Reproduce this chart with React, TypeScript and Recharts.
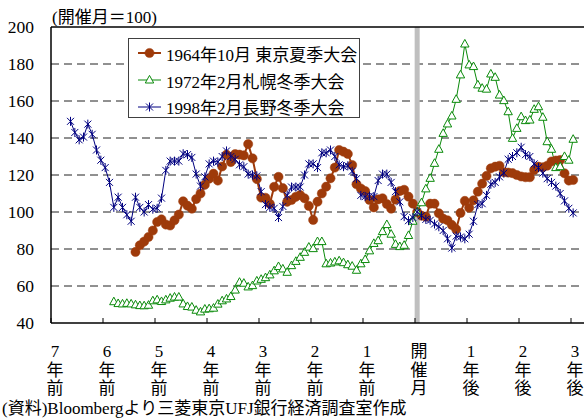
import React from 'react';
import { LineChart, Line, XAxis, YAxis, CartesianGrid, ReferenceLine, Legend } from 'recharts';

const FONT = "'Liberation Serif', 'Noto Sans CJK JP', serif";
const BROWN = '#9e3a0a';
const GREEN = '#0a8a0a';
const NAVY = '#000080';

// Monthly index, host month = 100. Each series begins at the month given by its *Start constant.
const tokyoStart = -65;
const tokyo = [
  78.4, 82, 84, 86.5, 90, 94.6, 96, 93.2, 92.7, 95.5,
  98.6, 105.8, 103.4, 101.8, 107, 110, 114.7, 118, 120.7, 117,
  124.6, 131, 127, 131.3, 131, 130.6, 136.7, 129, 117.8, 107.8,
  107.7, 104.4, 113.6, 119, 112.9, 105.5, 106.5, 108.2, 109.2, 107.4,
  103.3, 95.7, 105.6, 110, 113.7, 118.2, 124, 133.5, 132.6, 131.4,
  125.4, 115, 112.7, 111.3, 106.5, 102.5, 106.8, 107.4, 104.3, 101.8,
  106.7, 111.3, 112, 108.3, 104.5, 100, 98, 97.5, 104.5, 104.5,
  99.3, 96.4, 95.5, 93, 90.7, 99.5, 106, 102.3, 106.3, 111,
  115.3, 119.5, 123.6, 124.5, 125, 121.5, 121.3, 121, 120, 119.2,
  118.8, 118.8, 122.7, 124.5, 124.2, 125, 127.3, 127.8, 128.1, 120.9,
  117, 117.3,
];

const sapporoStart = -70;
const sapporo = [
  51.5, 50.5, 50.3, 50.6, 50.3, 49.8, 49.4, 49.3, 49.6, 52,
  52.5, 51.6, 52.5, 53.4, 54, 54, 50.3, 48.9, 48.6, 46.9,
  46, 47.5, 47.7, 48, 50.2, 52, 53, 54.3, 57.8, 62,
  61.5, 59.5, 60.2, 62.7, 63.6, 64.5, 66, 68.2, 70.5, 69.2,
  67.4, 71, 73.3, 75.5, 78.2, 81, 80.2, 84, 84, 72,
  72.4, 73, 73.6, 72.6, 71.5, 70.7, 68.5, 72, 74.3, 79,
  83, 84.5, 89.4, 93.2, 88, 82.5, 81.3, 82, 87.3, 95,
  100, 105, 112.5, 118.2, 126.3, 133.9, 142.5, 147.6, 151.9, 160.9,
  174.1, 190.8, 179.5, 178.6, 168.7, 166.9, 166.4, 174.6, 172.8, 163.2,
  160.2, 154.2, 139.8, 145.2, 151.5, 149.4, 149.7, 155.5, 156.9, 151.2,
  138, 133.9, 124, 124.5, 130, 128, 139.3,
];

const naganoStart = -80;
const nagano = [
  149, 143, 139, 140.5, 147.5, 142, 133.5, 128, 124, 116,
  102.5, 108, 102.5, 98.5, 95, 108, 102.5, 100, 104, 101.5,
  102, 107.5, 122.5, 127.5, 127.5, 127.5, 131.5, 131, 129.5, 120.5,
  114, 119, 126, 127.5, 127, 130, 133, 130, 128.5, 125.5,
  124.5, 120.5, 120, 119.5, 111, 104, 102.5, 102, 97, 103,
  109, 113.5, 113.5, 113.5, 120, 126, 126, 124, 132, 132,
  133.5, 130, 125.5, 124.5, 125, 122, 118, 109, 108.3, 108.6,
  108.3, 117, 120.5, 120.5, 116, 111, 105.5, 97.5, 95.3, 97,
  100, 98, 96, 95.5, 93.5, 92, 90, 85.5, 80.5, 87,
  86.5, 85.5, 88, 95, 104, 104.5, 109, 115, 116, 119,
  121, 128.5, 130, 132, 135, 131, 130, 126, 124, 121,
  118, 116, 114, 110, 106, 102, 99.5,
];

const seriesNames = {
  tokyo: '1964年10月 東京夏季大会',
  sapporo: '1972年2月札幌冬季大会',
  nagano: '1998年2月長野冬季大会',
};

const yTicks = [40, 60, 80, 100, 120, 140, 160, 180, 200];
const gridValues = [60, 80, 100, 120, 140, 160, 180];
const xTickMonths = [-84, -72, -60, -48, -36, -24, -12, 0, 12, 24, 36];
const xTickLabels = ['7年前', '6年前', '5年前', '4年前', '3年前', '2年前', '1年前', '開催月', '1年後', '2年後', '3年後'];

const firstMonth = -84;
const lastMonth = 36;

const pick = (arr: number[], start: number, m: number) => {
  const i = m - start;
  return i >= 0 && i < arr.length ? arr[i] : null;
};

const rows: any[] = [];
for (let m = firstMonth; m <= lastMonth; m++) {
  rows.push({
    month: m,
    tokyo: pick(tokyo, tokyoStart, m),
    sapporo: pick(sapporo, sapporoStart, m),
    nagano: pick(nagano, naganoStart, m),
  });
}

// Tick marks sit on month boundaries, half a month before each labelled month.
const tickPositions = xTickMonths.map((m) => m - 0.5);

const CircleMark = ({ cx, cy }: any) => <circle cx={cx} cy={cy} r={4.6} fill={BROWN} stroke={BROWN} strokeWidth={0.5} />;
const TriangleMark = ({ cx, cy }: any) => (
  <polygon
    points={`${cx},${cy - 4.6} ${cx + 4.2},${cy + 3} ${cx - 4.2},${cy + 3}`}
    fill="#fff"
    stroke={GREEN}
    strokeWidth={1}
  />
);
const StarMark = ({ cx, cy }: any) => (
  <g stroke={NAVY} strokeWidth={1}>
    <line x1={cx - 3.5} y1={cy - 3.5} x2={cx + 3.5} y2={cy + 3.5} />
    <line x1={cx - 3.5} y1={cy + 3.5} x2={cx + 3.5} y2={cy - 3.5} />
    <line x1={cx} y1={cy - 4.5} x2={cx} y2={cy + 4.5} />
  </g>
);

const markFor: Record<string, any> = { tokyo: CircleMark, sapporo: TriangleMark, nagano: StarMark };

const makeDot = (Mark: any) => (p: any) => {
  if (p.cx == null || p.cy == null || p.value == null) return <g key={`e-${p.index}`} />;
  return (
    <g key={`d-${p.index}`}>
      <Mark cx={p.cx} cy={p.cy} />
    </g>
  );
};

const MonthTick = (props: any) => {
  const { x, y, payload } = props;
  const idx = xTickMonths.indexOf(Math.round(payload.value + 0.5));
  const chars = Array.from(idx >= 0 ? xTickLabels[idx] : '');
  const cx = x + 4;
  return (
    <g>
      <line x1={x} x2={x} y1={y} y2={y - 5} stroke="#000" strokeWidth={1} />
      <text textAnchor="middle" fontSize={17} fontFamily={FONT} fill="#000">
        {chars.map((c, i) => (
          <tspan key={i} x={cx} y={y + 34 + i * 18.5}>
            {c}
          </tspan>
        ))}
      </text>
    </g>
  );
};

const LegendBox = (props: any) => {
  const payload = props.payload || [];
  return (
    <div
      style={{
        width: 232,
        height: 80,
        boxSizing: 'border-box',
        border: '1px solid #404040',
        background: '#fff',
        paddingTop: 1,
        fontFamily: FONT,
        fontSize: 17,
        color: '#000',
      }}
    >
      {payload.map((entry: any) => {
        const Mark = markFor[entry.dataKey];
        const w = entry.dataKey === 'tokyo' ? 2 : 1;
        return (
          <div key={entry.dataKey} style={{ height: 26.7, display: 'flex', alignItems: 'center', whiteSpace: 'nowrap' }}>
            <svg width={32} height={14} style={{ marginLeft: 9, flex: 'none' }}>
              <line x1={0} x2={23} y1={7} y2={7} stroke={entry.color} strokeWidth={w} />
              <Mark cx={11.5} cy={7} />
            </svg>
            <span style={{ marginLeft: -4 }}>{entry.value}</span>
          </div>
        );
      })}
    </div>
  );
};

export default function App() {
  return (
    <div style={{ position: 'absolute', left: 0, top: 0, width: 584, height: 418, background: '#fff', fontFamily: FONT }}>
      <div style={{ position: 'absolute', left: 52, top: 8, fontSize: 17, lineHeight: '20px', color: '#000', whiteSpace: 'nowrap' }}>
        (開催月＝100)
      </div>
      <LineChart width={584} height={418} data={rows} margin={{ top: 27, right: 0, bottom: 0, left: 0 }}>
        <CartesianGrid vertical={false} horizontalValues={gridValues} stroke="#222" strokeDasharray="8 5" />
        <ReferenceLine x={0} stroke="#bfbfbf" strokeWidth={5} />
        <XAxis
          type="number"
          dataKey="month"
          domain={[-84.5, 38.5]}
          ticks={tickPositions}
          interval={0}
          tick={<MonthTick />}
          tickLine={false}
          tickSize={0}
          tickMargin={0}
          height={95}
          axisLine={{ stroke: '#000', strokeWidth: 1.5 }}
          allowDataOverflow
        />
        <YAxis
          domain={[40, 200]}
          ticks={yTicks}
          interval={0}
          width={51}
          tickLine={false}
          tickSize={0}
          tickMargin={17}
          axisLine={{ stroke: '#000', strokeWidth: 1.5 }}
          tick={{ fontSize: 17.5, fill: '#000', fontFamily: FONT }}
          allowDataOverflow
        />
        <ReferenceLine y={200} stroke="#000" strokeWidth={1.5} />
        <Legend
          layout="vertical"
          align="center"
          verticalAlign="middle"
          wrapperStyle={{ left: 128, top: 38, width: 232, height: 80 }}
          content={<LegendBox />}
        />
        <Line
          dataKey="tokyo"
          name={seriesNames.tokyo}
          stroke={BROWN}
          strokeWidth={2}
          dot={makeDot(CircleMark)}
          activeDot={false}
          isAnimationActive={false}
        />
        <Line
          dataKey="sapporo"
          name={seriesNames.sapporo}
          stroke={GREEN}
          strokeWidth={1}
          dot={makeDot(TriangleMark)}
          activeDot={false}
          isAnimationActive={false}
        />
        <Line
          dataKey="nagano"
          name={seriesNames.nagano}
          stroke={NAVY}
          strokeWidth={1}
          dot={makeDot(StarMark)}
          activeDot={false}
          isAnimationActive={false}
        />
      </LineChart>
      <div style={{ position: 'absolute', left: 2, top: 400, fontSize: 17, lineHeight: '17px', color: '#000', whiteSpace: 'nowrap' }}>
        (資料)Bloombergより三菱東京UFJ銀行経済調査室作成
      </div>
    </div>
  );
}
